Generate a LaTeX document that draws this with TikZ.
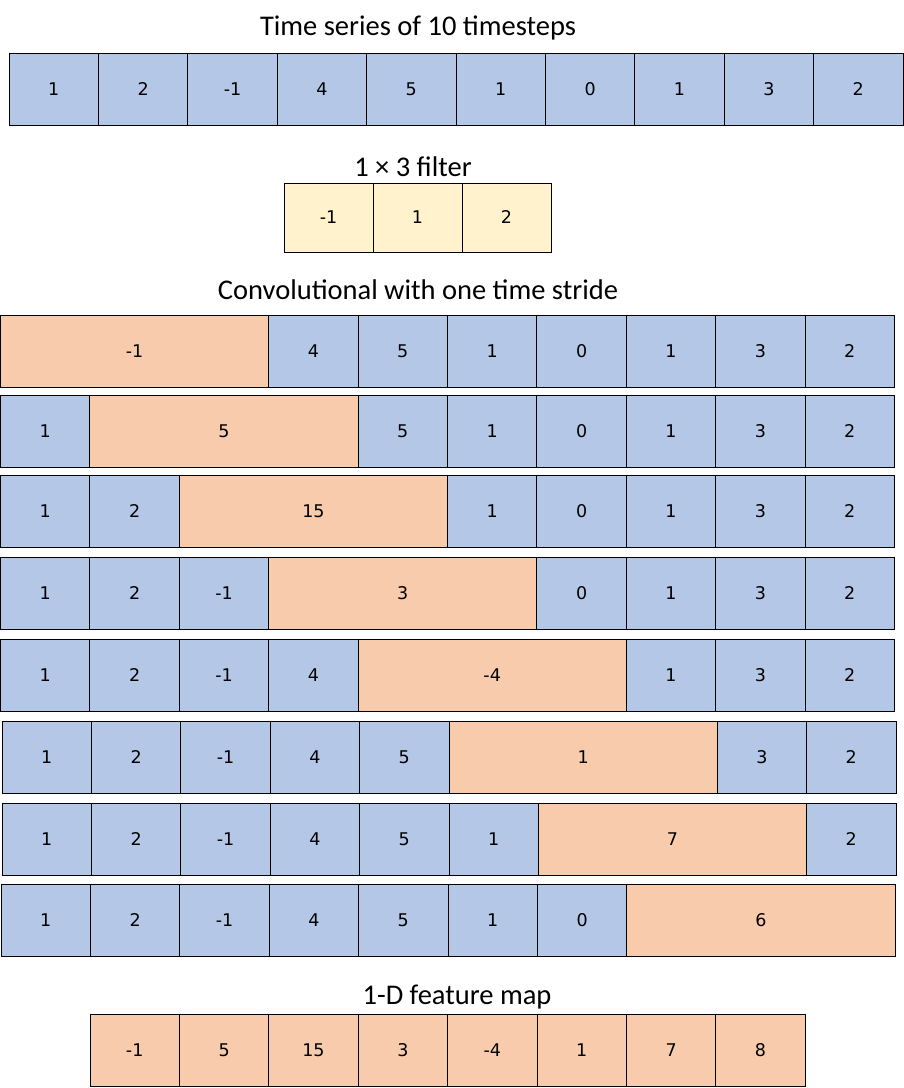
\documentclass[tikz,border=0pt]{standalone}
\usepackage{fontspec}
\setmainfont{Carlito}
\newfontfamily\numfont{DejaVu Sans}
\definecolor{cblue}{HTML}{B4C7E7}
\definecolor{cyel}{HTML}{FFF2CC}
\definecolor{corg}{HTML}{F8CBAD}
\begin{document}
\begin{tikzpicture}[x=1pt,y=-1pt,
  cell/.style={draw=black,line width=1pt,minimum height=72pt,inner sep=0pt,text height=12.5pt,text depth=0pt,font=\numfont\fontsize{17.5}{20}\selectfont},
  bcell/.style={cell,fill=cblue,minimum width=89.4pt},
  ycell/.style={cell,fill=cyel,minimum width=89pt,minimum height=69pt},
  ocell/.style={cell,fill=corg,minimum width=268.2pt},
  fcell/.style={cell,fill=corg,minimum width=89.4pt},
  title/.style={font=\fontsize{28.5}{32}\selectfont,inner sep=0pt}]
\useasboundingbox (0,0) rectangle (904,1088);
% titles
\node[title] (t1) at (418,28) {Time series of 10 timesteps};
\node[title] (t2) at (413,167) {1 × 3 filter};
\node[title] (t3) at (418,290) {Convolutional with one time stride};
\node[title] (t4) at (457,997) {1-D feature map};
% time series
\foreach \v [count=\i] in {1,2,-1,4,5,1,0,1,3,2}
  \node[bcell] (s\i) at ({9+89.4*(\i-0.5)},89) {\v};
% filter
\foreach \v [count=\i] in {-1,1,2}
  \node[ycell] (f\i) at ({284+89*(\i-0.5)},217.5) {\v};
% convolution rows
\foreach \r/\yy/\xo/\o in {1/351/0.5/-1,2/431/0.5/5,3/511/0.5/15,4/593/0.5/3,5/675/0.5/-4,6/757/2/1,7/839/2/7,8/920/1/6} {
  \foreach \v [count=\i] in {1,2,-1,4,5,1,0,1,3,2} {
    \ifnum\i<\r \node[bcell] (r\r c\i) at ({\xo+89.4*(\i-0.5)},\yy) {\v};\fi
    \ifnum\i>\numexpr\r+2\relax \node[bcell] (r\r c\i) at ({\xo+89.4*(\i-0.5)},\yy) {\v};\fi
  }
  \node[ocell] (r\r o) at ({\xo+89.4*(\r+0.5)},\yy) {\o};
}
% feature map
\foreach \v [count=\i] in {-1,5,15,3,-4,1,7,8}
  \node[fcell] (m\i) at ({90+89.4*(\i-0.5)},1050) {\v};
\end{tikzpicture}
\end{document}
